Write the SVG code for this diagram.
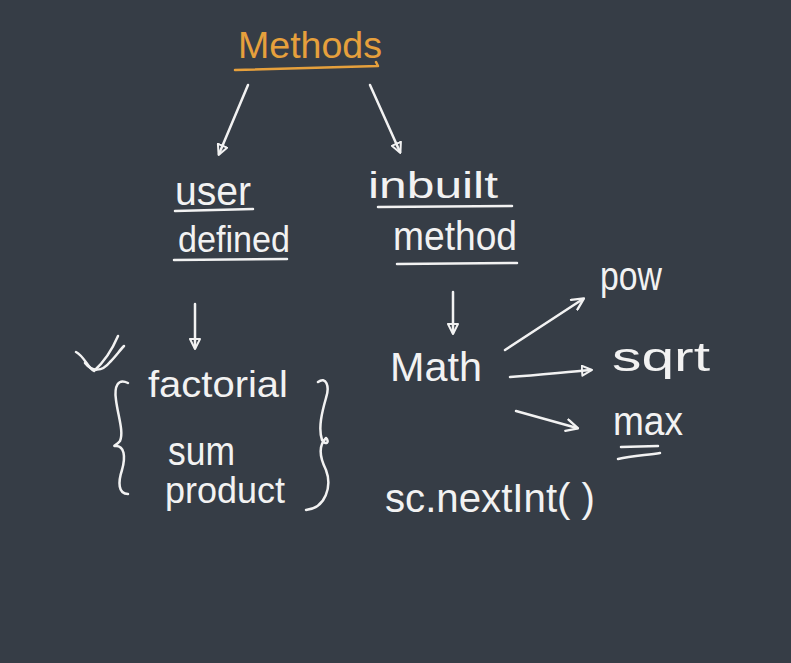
<svg xmlns="http://www.w3.org/2000/svg" width="791" height="663" viewBox="0 0 791 663">
<defs>
<style>
.t{font-family:"Liberation Sans","DejaVu Sans",sans-serif;fill:#f2f2f2;font-size:36px}
.b{font-size:41px}
.o{fill:#e6a03c}
.ln{stroke:#f2f2f2;stroke-width:2.5;fill:none;stroke-linecap:round;stroke-linejoin:round}
.ol{stroke:#e6a03c}
</style>
<marker id="ah" viewBox="0 0 12 12" refX="10" refY="6" markerWidth="12" markerHeight="12" markerUnits="userSpaceOnUse" orient="auto">
<path d="M1,1 L11,6 L1,11 Z" fill="none" stroke="#f2f2f2" stroke-width="2" stroke-linejoin="round"/>
</marker>
<marker id="ah2" viewBox="0 0 12 12" refX="10" refY="6" markerWidth="14" markerHeight="14" markerUnits="userSpaceOnUse" orient="auto">
<path d="M1,1 L11,6 L1,11" fill="none" stroke="#f2f2f2" stroke-width="2" stroke-linejoin="round" stroke-linecap="round"/>
</marker>
</defs>
<rect width="791" height="663" fill="#363d46"/>
<g id="methods">
<text class="t o" x="238" y="58" textLength="144" lengthAdjust="spacingAndGlyphs">Methods</text>
<path class="ln ol" d="M235,70 L378,66 L376,62"/>
</g>
<g id="user-defined">
<text class="t b" x="175" y="205" textLength="76" lengthAdjust="spacingAndGlyphs">user</text>
<line class="ln" x1="175" y1="211" x2="253" y2="209"/>
<text class="t" x="178" y="252" textLength="112" lengthAdjust="spacingAndGlyphs">defined</text>
<line class="ln" x1="174" y1="260" x2="287" y2="259"/>
</g>
<g id="inbuilt-method">
<text class="t" x="368" y="198" textLength="130" lengthAdjust="spacingAndGlyphs">inbuilt</text>
<line class="ln" x1="378" y1="207" x2="512" y2="206"/>
<text class="t b" x="393" y="250" textLength="124" lengthAdjust="spacingAndGlyphs">method</text>
<line class="ln" x1="397" y1="264" x2="517" y2="263"/>
</g>
<g id="check">
<path class="ln" d="M76,352 C84,356 88,368 94,371 C104,362 112,350 118,336"/>
<path class="ln" d="M85,363 C92,372 102,372 110,362 C116,356 120,350 124,346"/>
</g>
<g id="user-list">
<path class="ln" d="M128,383 C118,378 114,386 116,400 C118,416 124,432 120,441 C116,446 112,446 116,446 C124,446 126,456 122,470 C118,482 118,494 128,494"/>
<text class="t" x="148" y="397" textLength="140" lengthAdjust="spacingAndGlyphs">factorial</text>
<text class="t b" x="168" y="465" textLength="67" lengthAdjust="spacingAndGlyphs">sum</text>
<text class="t" x="165" y="503" textLength="120" lengthAdjust="spacingAndGlyphs">product</text>
<path class="ln" d="M318,382 C326,376 330,386 326,398 C322,412 318,428 322,440 C326,446 330,442 326,438 C318,446 320,458 326,470 C332,486 326,508 306,510"/>
</g>
<g id="math">
<text class="t b" x="390" y="381" textLength="92" lengthAdjust="spacingAndGlyphs">Math</text>
</g>
<g id="pow"><text class="t b" x="600" y="290" textLength="62" lengthAdjust="spacingAndGlyphs">pow</text></g>
<g id="sqrt"><text class="t b" x="612" y="371" textLength="98" lengthAdjust="spacingAndGlyphs">sqrt</text></g>
<g id="max">
<text class="t b" x="613" y="435" textLength="70" lengthAdjust="spacingAndGlyphs">max</text>
<path class="ln" d="M621,447 L658,446"/>
<path class="ln" d="M618,459 C632,456 648,455 660,453"/>
</g>
<g id="scanner"><text class="t b" x="385" y="512" textLength="210" lengthAdjust="spacingAndGlyphs">sc.nextInt( )</text></g>
<g id="connectors">
<line class="ln" x1="248" y1="85" x2="219" y2="154" marker-end="url(#ah)"/>
<line class="ln" x1="370" y1="85" x2="400" y2="152" marker-end="url(#ah)"/>
<line class="ln" x1="195" y1="304" x2="195" y2="348" marker-end="url(#ah)"/>
<line class="ln" x1="453" y1="292" x2="453" y2="333" marker-end="url(#ah)"/>
<line class="ln" x1="505" y1="350" x2="583" y2="299" marker-end="url(#ah2)"/>
<path class="ln" d="M510,377 C540,375 565,372 591,370" marker-end="url(#ah)"/>
<line class="ln" x1="516" y1="411" x2="577" y2="428" marker-end="url(#ah2)"/>
</g>
</svg>
